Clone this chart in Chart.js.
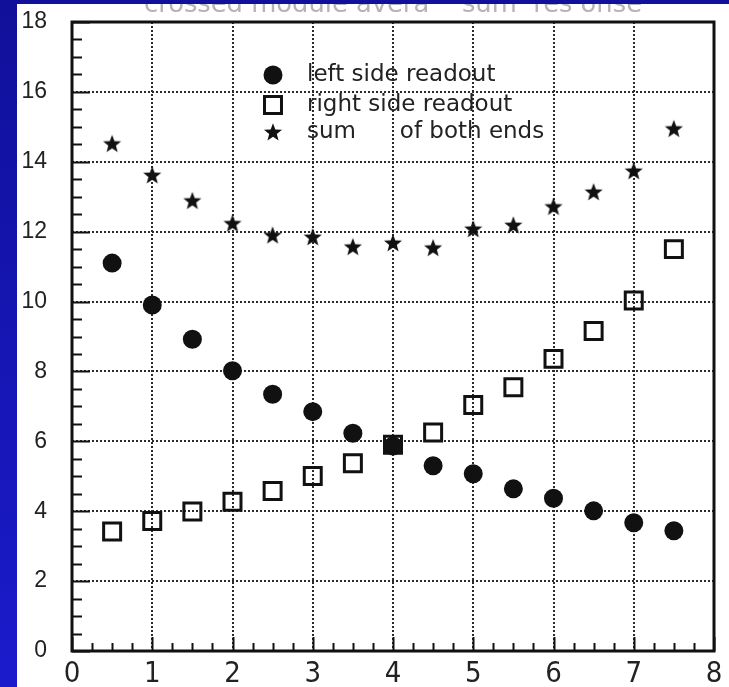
<!DOCTYPE html>
<html>
<head>
<meta charset="utf-8">
<script src="https://cdn.jsdelivr.net/npm/chart.js@4/dist/chart.umd.min.js"></script>
<style>
  html, body { margin: 0; padding: 0; }
  body {
    width: 729px; height: 687px; overflow: hidden;
    background: linear-gradient(to bottom, #10109a, #1b1bcc);
  }
  #sheet {
    position: absolute; left: 17px; top: 4px;
    width: 712px; height: 683px; background: #fff;
  }
</style>
</head>
<body>
<div id="sheet"><canvas id="resp" width="712" height="683"></canvas></div>
<script>
// module positions and the three response curves
const positions = [0.5, 1, 1.5, 2, 2.5, 3, 3.5, 4, 4.5, 5, 5.5, 6, 6.5, 7, 7.5];
const leftReadout  = [11.1, 9.9, 8.92, 8.02, 7.35, 6.85, 6.23, 5.87, 5.3, 5.07, 4.64, 4.37, 4.01, 3.67, 3.44];
const rightReadout = [3.42, 3.72, 3.99, 4.27, 4.58, 5.01, 5.37, 5.9, 6.25, 7.04, 7.55, 8.36, 9.16, 10.03, 11.5];
const sumBothEnds  = [14.52, 13.62, 12.89, 12.24, 11.9, 11.85, 11.57, 11.68, 11.54, 12.08, 12.19, 12.72, 13.14, 13.74, 14.95];
const xTicks = [0, 1, 2, 3, 4, 5, 6, 7, 8];
const yTicks = [0, 2, 4, 6, 8, 10, 12, 14, 16, 18];
const legendLabels = ["left side readout", "right side readout", "sum      of both ends"];
const titleText = "crossed module avera    sum  res onse";

const toPoints = ys => positions.map((x, i) => ({ x: x, y: ys[i] }));

// filled five point star used as marker
function makeStar(size) {
  const c = document.createElement("canvas");
  c.width = size; c.height = size;
  const g = c.getContext("2d");
  const cx = size / 2, cy = size / 2 + 0.8, ro = size / 2 - 0.5, ri = ro * 0.42;
  g.beginPath();
  for (let k = 0; k < 10; k++) {
    const r = k % 2 ? ri : ro;
    const a = -Math.PI / 2 + k * Math.PI / 5;
    g.lineTo(cx + r * Math.cos(a), cy + r * Math.sin(a));
  }
  g.closePath();
  g.fillStyle = "#111";
  g.fill();
  return c;
}
const star = makeStar(20);

// ticks inside the frame, frame box on top
const framePlugin = {
  id: "frame",
  afterDraw(chart) {
    const ctx = chart.ctx, a = chart.chartArea;
    const xs = chart.scales.x, ys = chart.scales.y;
    ctx.save();
    ctx.strokeStyle = "#111";
    ctx.lineWidth = 2;
    ctx.beginPath();
    for (let v = 0; v <= 18.001; v += 0.5) {
      const py = Math.round(ys.getPixelForValue(v)) + 0.5;
      const len = (Math.abs(v % 2) < 0.01) ? 18 : 10;
      ctx.moveTo(a.left, py); ctx.lineTo(a.left + len, py);
    }
    for (let v = 0; v <= 8.001; v += 0.25) {
      const px = Math.round(xs.getPixelForValue(v)) + 0.5;
      const len = (Math.abs(v % 1) < 0.01) ? 14 : 8;
      ctx.moveTo(px, a.bottom); ctx.lineTo(px, a.bottom - len);
    }
    ctx.stroke();
    ctx.lineWidth = 3;
    ctx.strokeRect(a.left, a.top, a.right - a.left, a.bottom - a.top);
    ctx.restore();
  }
};

// legend drawn inside the plot area
const keyPlugin = {
  id: "key",
  afterDatasetsDraw(chart) {
    const ctx = chart.ctx, a = chart.chartArea;
    const mx = a.left + 201, tx = a.left + 235;
    const rows = [a.top + 53, a.top + 83, a.top + 110];
    ctx.save();
    ctx.font = '23px "DejaVu Sans"';
    ctx.textBaseline = "middle";
    chart.data.datasets.forEach((ds, i) => {
      ctx.fillStyle = ds.backgroundColor;
      ctx.strokeStyle = ds.borderColor;
      ctx.lineWidth = ds.borderWidth;
      Chart.helpers.drawPoint(ctx, {
        pointStyle: ds.pointStyle,
        radius: ds.pointRadius,
        borderWidth: ds.borderWidth
      }, mx, rows[i]);
      ctx.fillStyle = "#222";
      ctx.fillText(legendLabels[i], tx, rows[i]);
    });
    ctx.restore();
  }
};

// faded heading, cut at the top edge
const headPlugin = {
  id: "head",
  afterDraw(chart) {
    const ctx = chart.ctx;
    ctx.save();
    ctx.font = '24px "DejaVu Sans Condensed", "DejaVu Sans"';
    ctx.fillStyle = "#b4b4b4";
    ctx.textBaseline = "alphabetic";
    const w = ctx.measureText(titleText).width;
    ctx.translate(127, 8);
    ctx.scale(498 / w, 1);
    ctx.fillText(titleText, 0, 0);
    ctx.restore();
  }
};

// keep the plot box fixed: no extra room for overhanging tick labels
const noOverhang = s => {
  s.paddingTop = 0; s.paddingBottom = 0;
  s.paddingLeft = 0; s.paddingRight = 0;
};

new Chart(document.getElementById("resp"), {
  type: "scatter",
  data: {
    datasets: [
      {
        label: legendLabels[0],
        data: toPoints(leftReadout),
        pointStyle: "circle",
        pointRadius: 9.5,
        pointHoverRadius: 9.5,
        backgroundColor: "#111",
        borderColor: "#111",
        borderWidth: 0
      },
      {
        label: legendLabels[1],
        data: toPoints(rightReadout),
        pointStyle: "rect",
        pointRadius: 12,
        pointHoverRadius: 12,
        backgroundColor: "rgba(0,0,0,0)",
        borderColor: "#111",
        borderWidth: 3
      },
      {
        label: legendLabels[2],
        data: toPoints(sumBothEnds),
        pointStyle: star,
        pointRadius: 9,
        pointHoverRadius: 9,
        backgroundColor: "#111",
        borderColor: "#111",
        borderWidth: 0
      }
    ]
  },
  options: {
    responsive: false,
    devicePixelRatio: 1,
    animation: false,
    events: [],
    layout: { padding: { top: 18, right: 12, left: 0, bottom: 0 } },
    plugins: {
      legend: { display: false },
      tooltip: { enabled: false }
    },
    scales: {
      x: {
        type: "linear",
        min: 0, max: 8,
        afterBuildTicks: s => { s.ticks = xTicks.map(v => ({ value: v })); },
        afterFit: s => { s.height = 36; noOverhang(s); },
        grid: { color: "#2a2a2a", lineWidth: 2, drawTicks: false, tickLength: 0 },
        border: { display: false, dash: [2, 2] },
        ticks: {
          padding: 6,
          color: "#222",
          font: { family: '"Liberation Sans Narrow", "DejaVu Sans Condensed", sans-serif', size: 29 }
        }
      },
      y: {
        type: "linear",
        min: 0, max: 18,
        afterBuildTicks: s => { s.ticks = yTicks.map(v => ({ value: v })); },
        afterFit: s => { s.width = 55; noOverhang(s); },
        grid: { color: "#2a2a2a", lineWidth: 2, drawTicks: false, tickLength: 0 },
        border: { display: false, dash: [2, 2] },
        ticks: {
          padding: 25,
          color: "#222",
          font: { family: '"Liberation Sans", sans-serif', size: 23 }
        }
      }
    }
  },
  plugins: [keyPlugin, framePlugin, headPlugin]
});
</script>
</body>
</html>
